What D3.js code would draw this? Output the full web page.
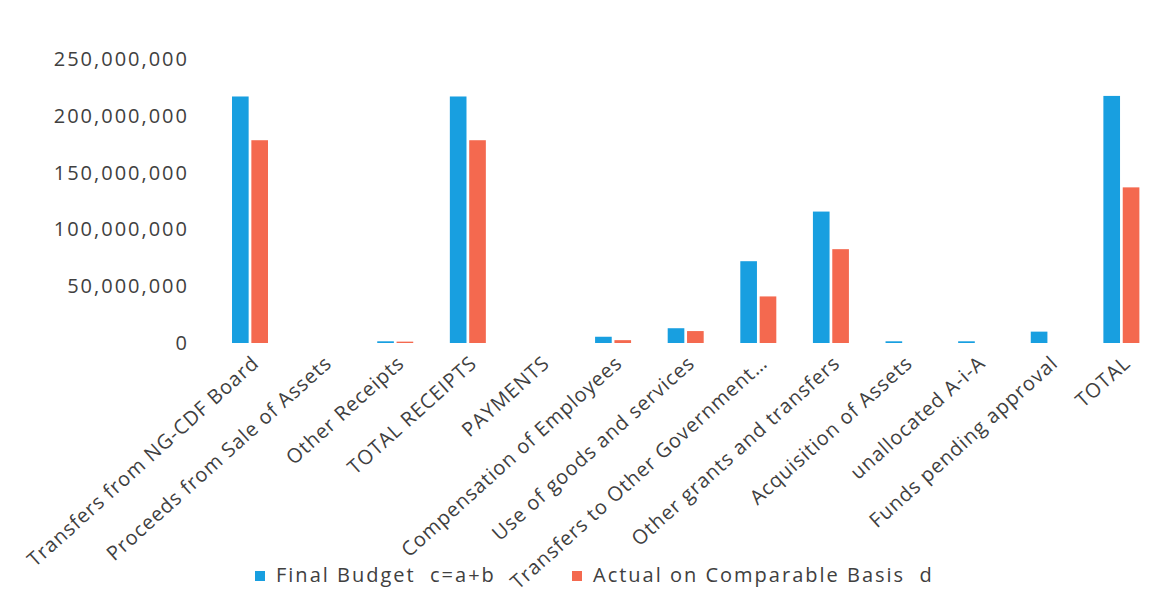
<!DOCTYPE html>
<html>
<head>
<meta charset="utf-8">
<script src="https://cdn.jsdelivr.net/npm/d3@7"></script>
<style>
  html, body { margin: 0; padding: 0; background: #fff; }
  svg { display: block; }
  text { font-family: "Open Sans", "Noto Sans", sans-serif; }
</style>
</head>
<body>
<svg id="chart" width="1155" height="589"></svg>
<script>
const categories = [
  "Transfers from NG-CDF Board",
  "Proceeds from Sale of Assets",
  "Other Receipts",
  "TOTAL RECEIPTS",
  "PAYMENTS",
  "Compensation of Employees",
  "Use of goods and services",
  "Transfers to Other Government…",
  "Other grants and transfers",
  "Acquisition of Assets",
  "unallocated A-i-A",
  "Funds pending approval",
  "TOTAL"
];
const finalBudget = [217000000, 0, 1500000, 217000000, 0, 5500000, 13000000, 72000000, 115700000, 1500000, 1500000, 10000000, 217500000];
const actual = [178500000, 0, 1200000, 178500000, 0, 2500000, 10500000, 41000000, 82600000, 0, 0, 0, 137000000];
const seriesNames = ["Final Budget  c=a+b", "Actual on Comparable Basis  d"];
const seriesColors = ["#189fe0", "#f4694f"];
const yTicks = [0, 50000000, 100000000, 150000000, 200000000, 250000000];

const svg = d3.select("#chart");
const x = d3.scaleBand().domain(categories).range([214, 1158]).paddingInner(0).paddingOuter(0);
const x1 = d3.scaleBand().domain([0, 1]).range([18, 54]).paddingInner(0.14);
const y = d3.scaleLinear().domain([0, 250000000]).range([343, 59]);

// y axis labels
const yAxis = d3.axisLeft(y).tickValues(yTicks).tickFormat(d3.format(",")).tickSize(0).tickPadding(0);
const yg = svg.append("g").attr("transform", "translate(189,0)").call(yAxis);
yg.select(".domain").remove();
yg.selectAll("text").attr("font-size", 20).attr("fill", "#404040")
  .attr("font-family", "Open Sans, sans-serif").attr("letter-spacing", "2px");

// bars
const data = categories.map((c, i) => ({ c, vals: [finalBudget[i], actual[i]] }));
const groups = svg.append("g").selectAll("g").data(data).join("g")
  .attr("transform", d => `translate(${x(d.c)},0)`);
groups.selectAll("rect").data(d => d.vals.map((v, k) => ({ v, k }))).join("rect")
  .attr("x", d => x1(d.k))
  .attr("width", x1.bandwidth())
  .attr("y", d => y(d.v))
  .attr("height", d => y(0) - y(d.v))
  .attr("fill", d => seriesColors[d.k]);

// x labels
const xAxis = d3.axisBottom(x).tickSize(0).tickPadding(0);
const xg = svg.append("g").attr("transform", "translate(0,343)").call(xAxis);
xg.select(".domain").remove();
xg.selectAll(".tick text")
  .attr("font-size", 20)
  .attr("fill", "#404040")
  .attr("font-family", "Open Sans, sans-serif")
  .attr("letter-spacing", "0.9px")
  .attr("text-anchor", "end")
  .attr("dy", 0)
  .attr("y", 0)
  .attr("transform", "translate(10,22) rotate(-42)");

// legend
const legend = svg.append("g");
const legX = [255, 572];
seriesNames.forEach((n, i) => {
  legend.append("rect").attr("x", legX[i]).attr("y", 571).attr("width", 10).attr("height", 10).attr("fill", seriesColors[i]);
  legend.append("text").attr("x", legX[i] + 21).attr("y", 582).attr("font-size", 20).attr("fill", "#404040")
    .attr("letter-spacing", "2px")
    .attr("xml:space", "preserve").style("white-space", "pre").text(n);
});
</script>
</body>
</html>
